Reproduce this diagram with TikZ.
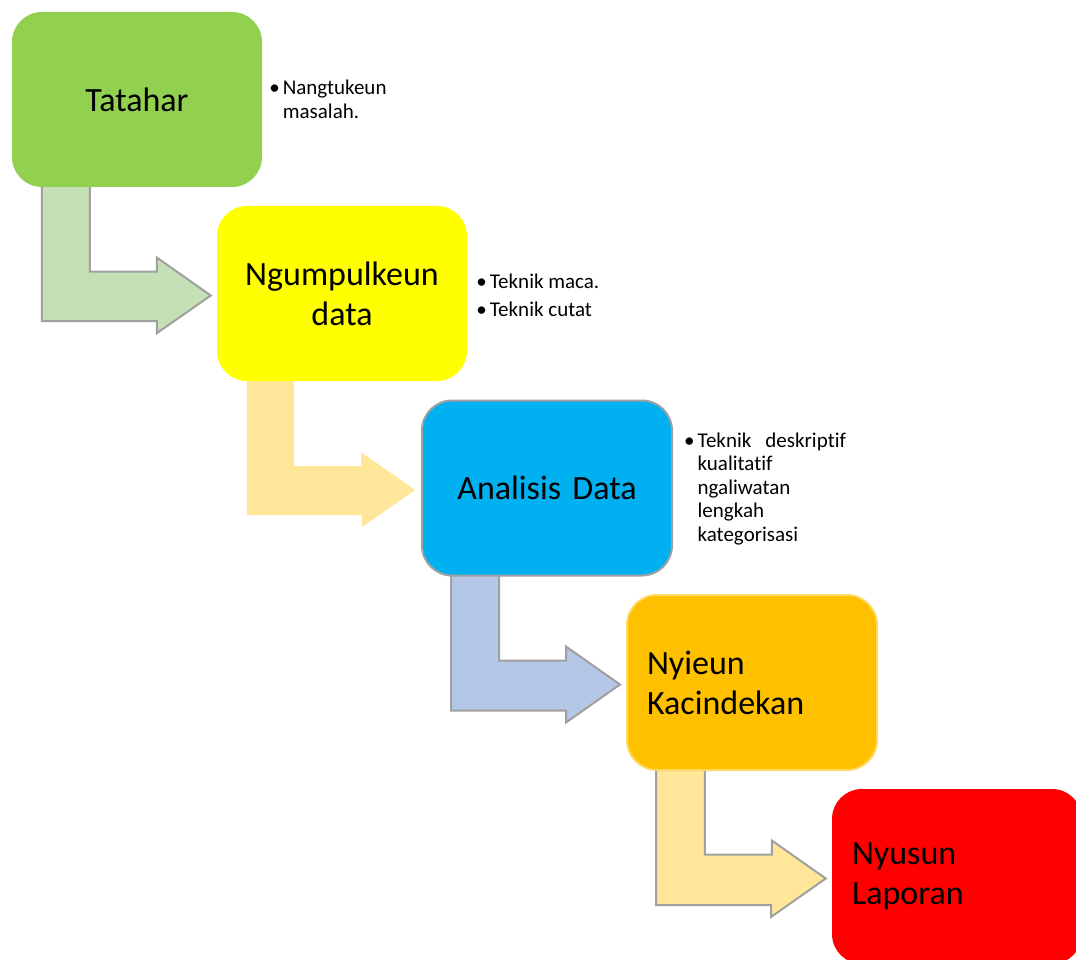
\documentclass[tikz,border=0pt]{standalone}
\usepackage{fontspec}
\setmainfont{Carlito}[Ligatures=NoCommon]
\definecolor{HejoTatahar}{HTML}{92D050}
\definecolor{KonengNgumpul}{HTML}{FFFF00}
\definecolor{BiruAnalisis}{HTML}{00B0F0}
\definecolor{OranyeKacindekan}{HTML}{FFC000}
\definecolor{GarisKacindekan}{HTML}{FFD966}
\definecolor{BeureumLaporan}{HTML}{FF0000}
\definecolor{PanahHejo}{HTML}{C5E0B4}
\definecolor{PanahKoneng}{HTML}{FFE699}
\definecolor{PanahBiru}{HTML}{B4C7E7}
\definecolor{AbuGaris}{HTML}{A0A0A0}
\usetikzlibrary{calc}
\usetikzlibrary{backgrounds}
\newcommand{\bulet}{\textbullet\hspace{3pt}}
\newcommand{\ngindent}{\hphantom{\bulet}}

\begin{document}
\begin{tikzpicture}
	[x=1pt, y=-1pt,
	lengkah/.style = {shape=rectangle, rounded corners=30pt, minimum width=250pt,
		minimum height=175pt, inner sep=20pt, text width=210pt, align=center,
		font=\fontsize{34}{40}\selectfont},
	katerangan/.style = {anchor=north west, inner sep=0pt, align=left,
		font=\fontsize{21}{23.5}\selectfont},
	panah/.style = {line width=2pt, line join=miter}]
	\useasboundingbox (0,0) rectangle (1076,960);
	\clip (0,0) rectangle (1076,960);
	% lengkah-lengkah
	\node[lengkah, fill=HejoTatahar] (tatahar) at (137,99.5) {Tatahar};
	\node[lengkah, fill=KonengNgumpul] (ngumpul) at (342,293.5) {Ngumpulkeun data};
	\node[lengkah, fill=BiruAnalisis, draw=AbuGaris, line width=2pt] (analisis) at (547,488) {Analisis Data};
	\node[lengkah, fill=OranyeKacindekan, draw=GarisKacindekan, line width=2pt, align=left] (kacindekan) at (752,682.5) {Nyieun\\Kacindekan};
	\node[lengkah, fill=BeureumLaporan, align=left] (laporan) at (957,876.5) {Nyusun\\Laporan};
	% katerangan
	\node[katerangan] (ktatahar) at ($(tatahar.north east)+(7,68)$) {\bulet Nangtukeun\\\ngindent masalah.};
	\node[katerangan] (kngumpul) at ($(ngumpul.north east)+(9,68)$) {\bulet Teknik maca.\\[4pt]\bulet Teknik cutat};
	\node[katerangan] (kanalisis) at ($(analisis.north east)+(11,33)$) {\bulet Teknik\hspace{14pt}deskriptif\\\ngindent kualitatif\\\ngindent ngaliwatan\\\ngindent lengkah\\\ngindent kategorisasi};
	% panah
	\begin{scope}[on background layer]
		\foreach \a/\b/\warna/\garis in {tatahar/ngumpul/PanahHejo/AbuGaris,
			ngumpul/analisis/PanahKoneng/none,
			analisis/kacindekan/PanahBiru/AbuGaris,
			kacindekan/laporan/PanahKoneng/AbuGaris}
		\draw[panah, fill=\warna, draw=\garis] ($(\a.south west)+(30,-5)$) -- ++(0,139) -- ++(115,0) -- ++(0,12)
			-- ($(\b.west)+(-6,2)$) -- ++(-54,-38) -- ++(0,14) -- ++(-67,0) -- ++(0,-90) -- cycle;
	\end{scope}
\end{tikzpicture}
\end{document}
